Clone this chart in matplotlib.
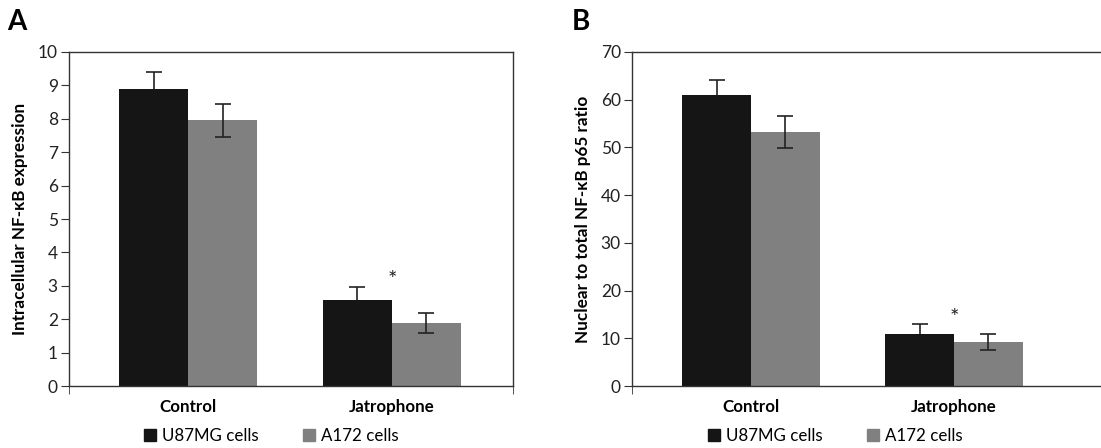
import numpy as np
import matplotlib.pyplot as plt
from matplotlib.patches import Patch

plt.rcParams['font.family'] = ['Lato', 'DejaVu Sans']

# Datos
grupos = ['Control', 'Jatrophone']
series = ['U87MG cells', 'A172 cells']
colores = ['#151515', '#808080']

# Panel A: expresion intracelular de NF-kB
a_u87 = [8.9, 2.57]
a_u87_err = [0.5, 0.38]
a_a172 = [7.95, 1.9]
a_a172_err = [0.5, 0.3]
a_star = 3.18

# Panel B: relacion nuclear / total NF-kB p65
b_u87 = [61.0, 11.0]
b_u87_err = [3.1, 1.9]
b_a172 = [53.2, 9.2]
b_a172_err = [3.3, 1.6]
b_star = 14.2

fig = plt.figure(figsize=(11.01, 4.48), dpi=100)
axA = fig.add_axes([69/1101, 1-386/448, 444/1101, 334/448])
axB = fig.add_axes([632/1101, 1-386/448, 478/1101, 334/448])

ancho = 0.338
x = np.arange(len(grupos))


def panel(ax, u87, u87_err, a172, a172_err, star, ymax, ylabel, letra, xlim):
    ax.bar(x - ancho/2, u87, ancho, color=colores[0], zorder=2)
    ax.bar(x + ancho/2, a172, ancho, color=colores[1], zorder=2)
    # barras de error negras detras de la barra: solo se ve la mitad superior
    ax.errorbar(x - ancho/2, u87, yerr=u87_err, fmt='none', ecolor='#222222',
                elinewidth=1.2, capsize=6, capthick=1.2, zorder=1.5)
    ax.errorbar(x + ancho/2, a172, yerr=a172_err, fmt='none', ecolor='#222222',
                elinewidth=1.2, capsize=6, capthick=1.2, zorder=3)
    ax.text(1, star, '*', ha='center', va='center', fontsize=16, color='#222222')
    ax.set_xlim(*xlim)
    ax.set_ylim(0, ymax)
    ax.set_xticks(x)
    ax.set_xticklabels(grupos, fontsize=12.2, fontweight='bold')
    ax.tick_params(axis='x', length=0, pad=9)
    ax.set_xticks(list(xlim), minor=True)
    ax.tick_params(axis='x', which='minor', length=6, direction='out', color='#333333')
    ax.tick_params(axis='y', length=6, direction='out', labelsize=12.5, color='#333333',
                   labelcolor='#222222', pad=2)
    for s in ax.spines.values():
        s.set_color('#333333')
        s.set_linewidth(1.0)
    ax.set_ylabel(ylabel, fontsize=12.3, fontweight='bold', labelpad=7)
    ax.text(-0.14, 1.05, letra, transform=ax.transAxes, fontsize=20,
            fontweight='bold', ha='left', va='bottom')
    handles = [Patch(color=c, label=s) for c, s in zip(colores, series)]
    ax.legend(handles=handles, ncol=2, loc='center left', frameon=False,
              bbox_to_anchor=(0.17, -0.15), fontsize=12.2, handlelength=0.7,
              handleheight=0.7, handletextpad=0.35, columnspacing=2.6,
              borderaxespad=0, borderpad=0)


panel(axA, a_u87, a_u87_err, a_a172, a_a172_err, a_star, 10,
      'Intracellular NF-\u03baB expression', 'A', (-0.584, 1.594))
axA.set_yticks(range(0, 11))

panel(axB, b_u87, b_u87_err, b_a172, b_a172_err, b_star, 70,
      'Nuclear to total NF-\u03baB p65 ratio', 'B', (-0.586, 1.768))
axB.set_yticks(range(0, 71, 10))
axB.texts[-1].set_x(-0.125)
axB.get_legend().set_bbox_to_anchor((0.16, -0.15))

fig.savefig('out.png', dpi=100)
